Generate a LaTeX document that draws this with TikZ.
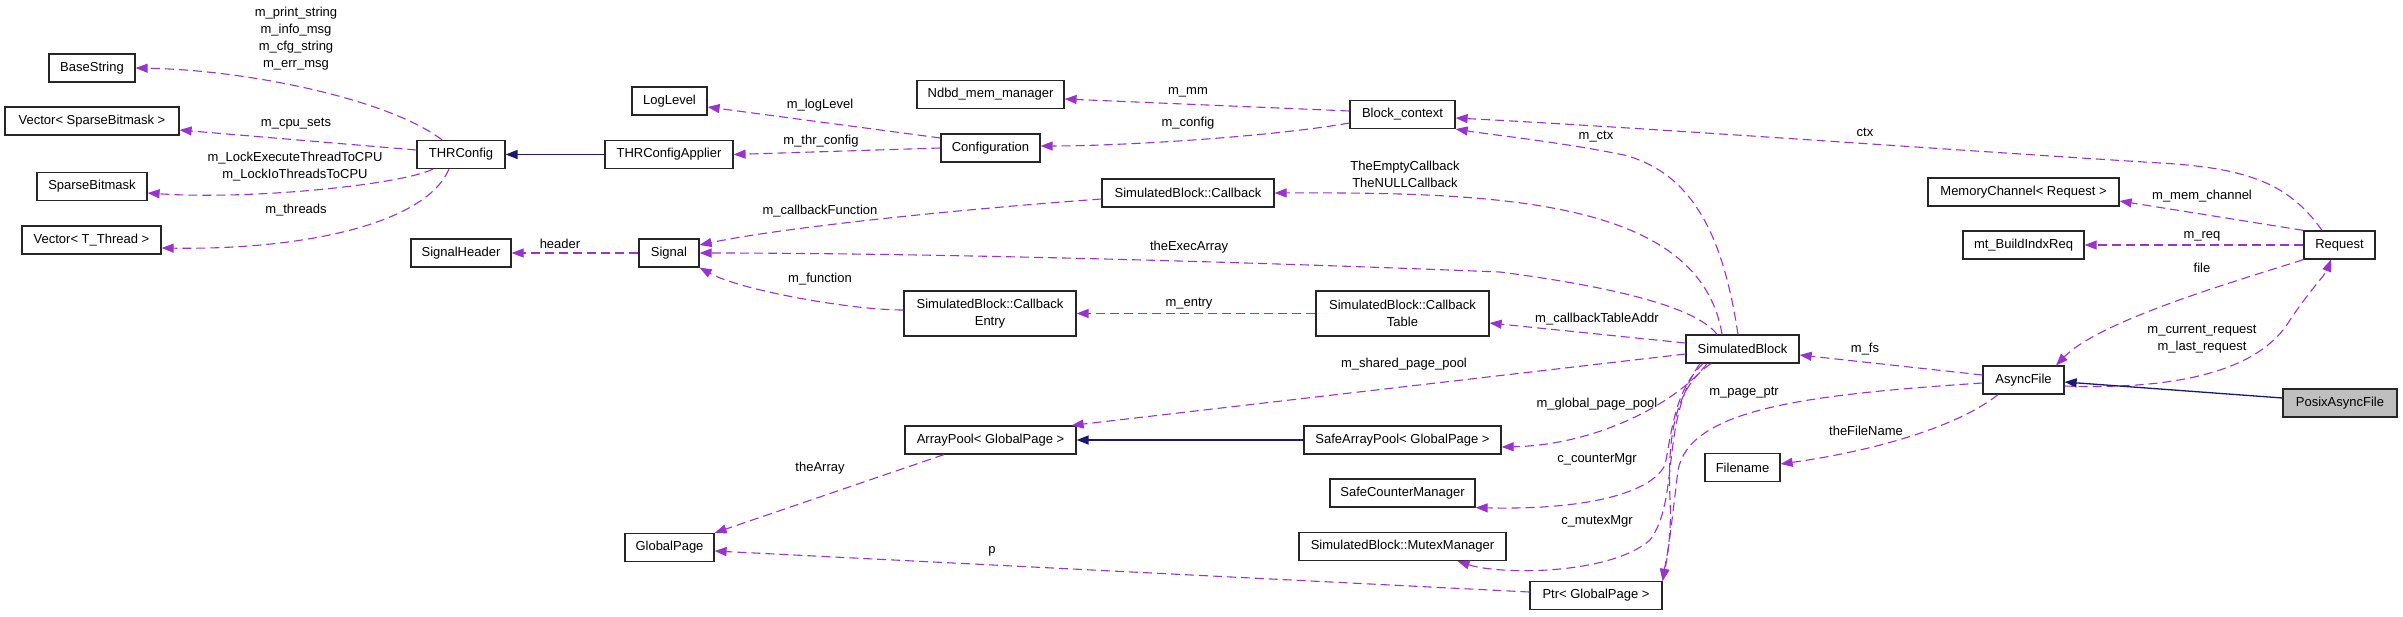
\documentclass[tikz,border=0pt]{standalone}
\usepackage{fontspec}
\setmainfont{Liberation Sans}
\usetikzlibrary{arrows.meta}
\definecolor{edgepurple}{HTML}{9A32CD}
\definecolor{basenavy}{HTML}{191970}
\begin{document}
\begin{tikzpicture}[x=1pt,y=1pt]
\useasboundingbox (0,0) rectangle (2403,-616);
\tikzstyle{every node}=[font=\fontsize{13}{17}\selectfont];
\tikzstyle{klass}=[draw=black!85,line width=1.2pt,rectangle,inner sep=0pt,minimum height=28pt,align=center];
\tikzstyle{edgelabel}=[inner sep=0pt,align=center];
\tikzstyle{memberedge}=[edgepurple,line width=1.1pt,dash pattern=on 9pt off 5pt,-{Triangle[length=12pt,width=9pt]}];
\tikzstyle{inheritedge}=[basenavy,line width=1.3pt,-{Triangle[length=12pt,width=9pt]}];
% classes
\node[klass,minimum width=86pt] (basestring) at (92,-68) {BaseString};
\node[klass,minimum width=174pt] (vecbitmask) at (92,-121) {Vector< SparseBitmask >};
\node[klass,minimum width=110pt] (sparsebitmask) at (92,-186.5) {SparseBitmask};
\node[klass,minimum width=139pt] (vecthread) at (91.5,-240) {Vector< T\_Thread >};
\node[klass,minimum width=88pt] (thrconfig) at (461,-154.5) {THRConfig};
\node[klass,minimum width=100pt] (signalheader) at (461,-253) {SignalHeader};
\node[klass,minimum width=128pt] (thrapplier) at (669,-154.5) {THRConfigApplier};
\node[klass,minimum width=75pt] (loglevel) at (669.5,-101) {LogLevel};
\node[klass,minimum width=60pt] (signal) at (669,-253) {Signal};
\node[klass,minimum width=89pt] (globalpage) at (669.5,-547.5) {GlobalPage};
\node[klass,minimum width=147pt] (memmanager) at (990.5,-94.5) {Ndbd\_mem\_manager};
\node[klass,minimum width=99pt] (configuration) at (990.5,-148) {Configuration};
\node[klass,minimum width=172pt,minimum height=45pt] (cbentry) at (990,-313.5) {SimulatedBlock::Callback\\Entry};
\node[klass,minimum width=171pt] (arraypool) at (990.5,-440) {ArrayPool< GlobalPage >};
\node[klass,minimum width=105pt] (blockctx) at (1402.5,-114.5) {Block\_context};
\node[klass,minimum width=172pt] (callback) at (1188,-193) {SimulatedBlock::Callback};
\node[klass,minimum width=173pt,minimum height=45pt] (cbtable) at (1402.5,-313.5) {SimulatedBlock::Callback\\Table};
\node[klass,minimum width=197pt] (safearraypool) at (1402.5,-440) {SafeArrayPool< GlobalPage >};
\node[klass,minimum width=145pt] (safecounter) at (1402.5,-493) {SafeCounterManager};
\node[klass,minimum width=207pt] (mutexmgr) at (1402.5,-546.5) {SimulatedBlock::MutexManager};
\node[klass,minimum width=113pt] (simblock) at (1742.5,-349) {SimulatedBlock};
\node[klass,minimum width=132pt] (ptrpage) at (1596,-595.5) {Ptr< GlobalPage >};
\node[klass,minimum width=75pt] (filename) at (1742.5,-467.5) {Filename};
\node[klass,minimum width=81pt] (asyncfile) at (2023.5,-380) {AsyncFile};
\node[klass,minimum width=191pt] (memchannel) at (2023.5,-192) {MemoryChannel< Request >};
\node[klass,minimum width=121pt] (buildindx) at (2023.5,-245) {mt\_BuildIndxReq};
\node[klass,minimum width=71pt] (request) at (2339.5,-245) {Request};
\node[klass,minimum width=114pt,fill=black!25] (posixfile) at (2340,-403) {PosixAsyncFile};
% member labels
\node[edgelabel] (lstrings) at (296,-39) {m\_print\_string\\m\_info\_msg\\m\_cfg\_string\\m\_err\_msg};
\node[edgelabel] (lcpusets) at (296,-124) {m\_cpu\_sets};
\node[edgelabel] (llock) at (295,-166.5) {m\_LockExecuteThreadToCPU\\m\_LockIoThreadsToCPU};
\node[edgelabel] (lthreads) at (296,-210) {m\_threads};
\node[edgelabel] (lheader) at (560,-244) {header};
\node[edgelabel] (lloglevel) at (820,-105) {m\_logLevel};
\node[edgelabel] (lthrconfig) at (821,-141) {m\_thr\_config};
\node[edgelabel] (lcbfunc) at (820,-211) {m\_callbackFunction};
\node[edgelabel] (lfunction) at (820,-279) {m\_function};
\node[edgelabel] (larray) at (820,-468) {theArray};
\node[edgelabel] (lmm) at (1188,-92) {m\_mm};
\node[edgelabel] (lconfig) at (1188,-123) {m\_config};
\node[edgelabel] (lcallbacks) at (1405,-174.5) {TheEmptyCallback\\TheNULLCallback};
\node[edgelabel] (lexec) at (1189,-247) {theExecArray};
\node[edgelabel] (lentry) at (1189,-304) {m\_entry};
\node[edgelabel] (lshared) at (1404,-364) {m\_shared\_page\_pool};
\node[edgelabel] (lp) at (992,-551) {p};
\node[edgelabel] (lctx) at (1865,-132) {ctx};
\node[edgelabel] (lmctx) at (1596,-137) {m\_ctx};
\node[edgelabel] (ltableaddr) at (1597,-319) {m\_callbackTableAddr};
\node[edgelabel] (lglobalpool) at (1597,-404) {m\_global\_page\_pool};
\node[edgelabel] (lcounter) at (1597,-459) {c\_counterMgr};
\node[edgelabel] (lmutex) at (1597,-521) {c\_mutexMgr};
\node[edgelabel] (lfs) at (1865,-349) {m\_fs};
\node[edgelabel] (lpageptr) at (1744,-393) {m\_page\_ptr};
\node[edgelabel] (lfilename) at (1866,-431) {theFileName};
\node[edgelabel] (lmemchannel) at (2202,-196) {m\_mem\_channel};
\node[edgelabel] (lreq) at (2202,-236) {m\_req};
\node[edgelabel] (lfile) at (2202,-268) {file};
\node[edgelabel] (lrequests) at (2202,-339.5) {m\_current\_request\\m\_last\_request};
% THRConfig members
\draw[memberedge] ([xshift=-19pt]thrconfig.north) .. controls (390,-100) and (250,-70) .. (basestring.east);
\draw[memberedge] ([yshift=4.5pt]thrconfig.west) -- ([yshift=-9pt]vecbitmask.east);
\draw[memberedge] ([xshift=-28pt]thrconfig.south) .. controls (400,-185) and (250,-200) .. ([yshift=-6.5pt]sparsebitmask.east);
\draw[memberedge] ([xshift=-12pt]thrconfig.south) .. controls (425,-225) and (300,-250) .. ([yshift=-8pt]vecthread.east);
\draw[inheritedge] (thrapplier.west) -- (thrconfig.east);
% Configuration, Block_context
\draw[memberedge] ([yshift=10pt]configuration.west) -- ([yshift=-6pt]loglevel.east);
\draw[memberedge] (configuration.west) -- (thrapplier.east);
\draw[memberedge] ([yshift=3.5pt]blockctx.west) -- ([yshift=-4.5pt]memmanager.east);
\draw[memberedge] ([yshift=-8.5pt]blockctx.west) .. controls (1270,-137) and (1120,-146) .. ([yshift=2pt]configuration.east);
% Signal
\draw[memberedge] (signal.west) -- (signalheader.east);
\draw[memberedge] ([yshift=-6pt]callback.west) .. controls (950,-210) and (780,-228) .. ([yshift=8pt]signal.east);
\draw[memberedge] ([yshift=3.5pt]cbentry.west) .. controls (850,-310) and (740,-290) .. (signal.south east);
\draw[memberedge] ([xshift=-25.5pt]simblock.north) .. controls (1695,-305) and (1600,-285) .. (1500,-272) .. controls (1200,-260) and (900,-253) .. (signal.east);
% SimulatedBlock members
\draw[memberedge] ([xshift=-20.5pt]simblock.north) .. controls (1700,-200) and (1500,-192) .. (callback.east);
\draw[memberedge] ([xshift=-4.5pt]simblock.north) .. controls (1725,-250) and (1700,-175) .. (1624,-155) .. controls (1560,-142) and (1500,-136) .. (blockctx.south east);
\draw[memberedge] ([xshift=-17.5pt]request.north) .. controls (2290,-185) and (2250,-168) .. (2160,-163) .. controls (1950,-150) and (1650,-128) .. ([yshift=-3.5pt]blockctx.east);
\draw[memberedge] (cbtable.west) -- (cbentry.east);
\draw[memberedge] ([yshift=6pt]simblock.west) -- ([yshift=-9.5pt]cbtable.east);
\draw[memberedge] ([yshift=-5pt]simblock.west) -- ([xshift=-5pt]arraypool.north east);
\draw[inheritedge] (safearraypool.west) -- (arraypool.east);
\draw[memberedge] ([xshift=-46.5pt]arraypool.south) -- (globalpage.north east);
\draw[memberedge] ([xshift=-35.5pt]simblock.south) .. controls (1680,-400) and (1600,-445) .. ([yshift=-7pt]safearraypool.east);
\draw[memberedge] ([xshift=-39.5pt]simblock.south) .. controls (1675,-390) and (1672,-430) .. (1665,-465) .. controls (1650,-495) and (1580,-510) .. (safecounter.south east);
\draw[memberedge] ([xshift=-42.5pt]simblock.south) .. controls (1660,-420) and (1680,-500) .. (1650,-540) .. controls (1610,-575) and (1500,-575) .. ([xshift=55pt]mutexmgr.south);
\draw[memberedge] ([xshift=-31.5pt]simblock.south) .. controls (1670,-390) and (1668,-450) .. (1670,-500) .. controls (1672,-540) and (1665,-565) .. (ptrpage.north east);
\draw[memberedge] ([yshift=3.5pt]ptrpage.west) -- ([yshift=-3.5pt]globalpage.east);
% AsyncFile, Request
\draw[memberedge] ([yshift=5pt]asyncfile.west) -- ([yshift=-6pt]simblock.east);
\draw[memberedge] ([yshift=-3pt]asyncfile.west) .. controls (1800,-395) and (1690,-410) .. (1678,-470) .. controls (1672,-520) and (1668,-555) .. (ptrpage.north east);
\draw[memberedge] ([xshift=-25.5pt]asyncfile.south) .. controls (1960,-425) and (1880,-450) .. ([yshift=3.5pt]filename.east);
\draw[memberedge] ([yshift=-6pt]asyncfile.east) .. controls (2180,-390) and (2260,-370) .. (2290,-320) .. controls (2310,-290) and (2325,-275) .. ([xshift=-8.5pt]request.south);
\draw[memberedge] (request.south west) .. controls (2240,-280) and (2100,-320) .. ([xshift=32.5pt]asyncfile.north);
\draw[memberedge] (request.north west) -- ([yshift=-9pt]memchannel.east);
\draw[memberedge] (request.west) -- (buildindx.east);
\draw[inheritedge] ([yshift=5pt]posixfile.west) -- ([yshift=-2pt]asyncfile.east);
\end{tikzpicture}
\end{document}
